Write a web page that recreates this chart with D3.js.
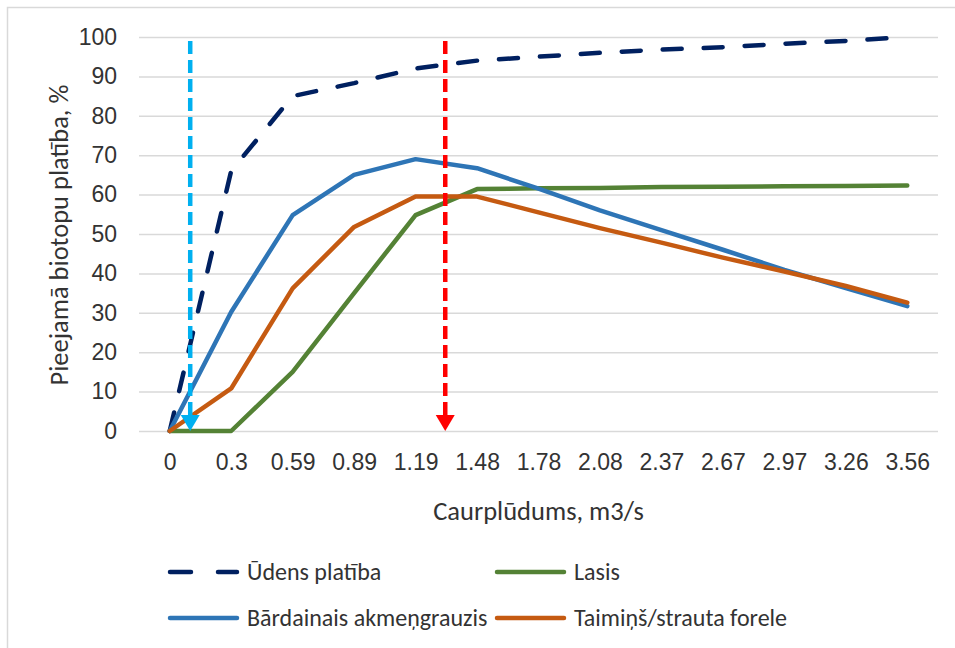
<!DOCTYPE html>
<html lang="lv">
<head>
<meta charset="UTF-8">
<title>Pieejamā biotopu platība</title>
<script src="https://d3js.org/d3.v7.min.js"></script>
<style>
  body { margin: 0; background: #fff; }
  svg { display: block; font-family: Carlito, Calibri, Lato, sans-serif; }
</style>
</head>
<body>
<svg width="955" height="648"></svg>
<script>
// dati nolasīti no attēla
const flows = ["0", "0.3", "0.59", "0.89", "1.19", "1.48", "1.78", "2.08", "2.37", "2.67", "2.97", "3.26", "3.56"];
const udens = [0, 66, 85, 88.3, 92, 94, 95, 96, 96.8, 97.4, 98.3, 99, 100];
const lasis = [0, 0, 15, 35, 54.8, 61.4, 61.6, 61.7, 61.9, 62, 62.1, 62.2, 62.3];
const bardainais = [0, 30.2, 54.8, 65, 69, 66.7, 61.5, 56, 51, 46, 40.9, 36.3, 31.7];
const taimins = [0, 10.8, 36.2, 51.8, 59.5, 59.5, 55.5, 51.5, 47.8, 44, 40.5, 36.8, 32.6];
const yTicks = [0, 10, 20, 30, 40, 50, 60, 70, 80, 90, 100];
const arrowFlows = [0.1, 1.33];
const arrowColors = ["#00B0F0", "#FF0000"];

const series = [
  {name: "Ūdens platība", values: udens, color: "#002060", dash: "19,22"},
  {name: "Lasis", values: lasis, color: "#548235", dash: null},
  {name: "Bārdainais akmeņgrauzis", values: bardainais, color: "#2E75B6", dash: null},
  {name: "Taimiņš/strauta forele", values: taimins, color: "#C55A11", dash: null}
];

const svg = d3.select("svg");
const textColor = "#333";
const tickFont = "23px";
const legendFont = "24px";
const titleFont = "26.5px";

// rāmis
svg.append("rect")
  .attr("x", 7.5).attr("y", 7.5)
  .attr("width", 980).attr("height", 680)
  .attr("fill", "none")
  .attr("stroke", "#D9D9D9")
  .attr("stroke-width", 1.5);

const plot = {left: 139, right: 938, top: 37, bottom: 431};

const x = d3.scalePoint()
  .domain(flows)
  .range([plot.left, plot.right])
  .padding(0.5);

const y = d3.scaleLinear()
  .domain([0, 100])
  .range([plot.bottom, plot.top]);

// Y ass ar režģa līnijām
const yAxis = svg.append("g")
  .attr("transform", `translate(${plot.left},0)`)
  .call(d3.axisLeft(y).tickValues(yTicks).tickSize(-(plot.right - plot.left)).tickPadding(22));
yAxis.select(".domain").remove();
yAxis.selectAll(".tick line").attr("stroke", "#D9D9D9").attr("stroke-width", 1.5);
yAxis.selectAll(".tick text")
  .attr("fill", textColor)
  .attr("dy", "0.32em")
  .style("font-size", tickFont);

// X ass
const xAxis = svg.append("g")
  .attr("transform", `translate(0,${plot.bottom})`)
  .call(d3.axisBottom(x).tickSize(0));
xAxis.select(".domain").remove();
xAxis.selectAll(".tick text")
  .attr("y", 39)
  .attr("dy", null)
  .attr("fill", textColor)
  .style("font-size", tickFont);

// asu nosaukumi
svg.append("text")
  .attr("transform", `translate(68,${(plot.top + plot.bottom) / 2 + 1}) rotate(-90)`)
  .attr("text-anchor", "middle")
  .attr("fill", textColor)
  .style("font-size", titleFont)
  .text("Pieejamā biotopu platība, %");

svg.append("text")
  .attr("x", (plot.left + plot.right) / 2)
  .attr("y", 520)
  .attr("text-anchor", "middle")
  .attr("fill", textColor)
  .style("font-size", titleFont)
  .text("Caurplūdums, m3/s");

// līnijas
const line = d3.line()
  .x((d, i) => x(flows[i]))
  .y(d => y(d));

svg.selectAll(".series")
  .data(series)
  .enter().append("path")
  .attr("class", "series")
  .attr("d", d => line(d.values))
  .attr("fill", "none")
  .attr("stroke", d => d.color)
  .attr("stroke-width", 4.5)
  .attr("stroke-linejoin", "round")
  .attr("stroke-linecap", "round")
  .attr("stroke-dasharray", d => d.dash);

// bultas: caurplūduma vērtība -> pozīcija starp kategorijām
const flowPos = d3.scaleLinear()
  .domain(flows.map(Number))
  .range(flows.map(f => x(f)));

const arrows = svg.selectAll(".arrow")
  .data(arrowFlows)
  .enter().append("g")
  .attr("class", "arrow");

arrows.append("line")
  .attr("x1", d => flowPos(d))
  .attr("x2", d => flowPos(d))
  .attr("y1", y(99))
  .attr("y2", y(4))
  .attr("stroke", (d, i) => arrowColors[i])
  .attr("stroke-width", 4.5)
  .attr("stroke-dasharray", "13,6");

arrows.append("path")
  .attr("d", d => {
    const px = flowPos(d), py = y(0);
    return `M${px - 9.5},${py - 16}L${px + 9.5},${py - 16}L${px},${py}Z`;
  })
  .attr("fill", (d, i) => arrowColors[i]);

// leģenda
const legendCols = [168, 495];
const legendRows = [572, 618];
const legend = svg.selectAll(".legend")
  .data(series)
  .enter().append("g")
  .attr("class", "legend")
  .attr("transform", (d, i) => `translate(${legendCols[i % 2]},${legendRows[Math.floor(i / 2)]})`);

legend.append("line")
  .attr("x1", 2).attr("x2", 69)
  .attr("y1", 0).attr("y2", 0)
  .attr("stroke", d => d.color)
  .attr("stroke-width", 4.5)
  .attr("stroke-linecap", "round")
  .attr("stroke-dasharray", d => d.dash ? "21,27" : null);

legend.append("text")
  .attr("x", 79)
  .attr("y", 8)
  .attr("fill", textColor)
  .style("font-size", legendFont)
  .text(d => d.name);
</script>
</body>
</html>
